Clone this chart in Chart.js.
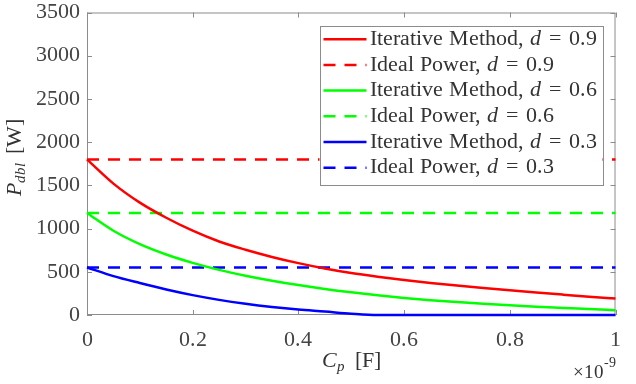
<!DOCTYPE html>
<html><head><meta charset="utf-8">
<script src="https://cdn.jsdelivr.net/npm/chart.js@4.4.0/dist/chart.umd.min.js"></script>
</head><body style="margin:0">
<canvas id="c" width="636" height="384"></canvas>
<script>
// Values
const cpValues = [0, 0.05, 0.1, 0.15, 0.2, 0.25, 0.3, 0.35, 0.4, 0.45, 0.5,
                  0.55, 0.6, 0.65, 0.7, 0.75, 0.8, 0.85, 0.9, 0.95, 1];
const iterative09 = [1800, 1520, 1300, 1125, 975, 850, 755, 672, 600, 538, 485,
                     442, 404, 371, 341, 313, 287, 261, 236, 212, 190];
const iterative06 = [1180, 975, 820, 700, 603, 522, 455, 397, 346, 301, 262,
                     228, 198, 172, 150, 130, 112, 96, 82, 68, 56];
const iterative03 = [550, 450, 370, 295, 230, 175, 130, 93, 63, 40, 15,
                     0, 0, 0, 0, 0, 0, 0, 0, 0, 0];
const idealPower = [1800, 1180, 550];
const dutyCycles = ['0.9', '0.6', '0.3'];
const xTicks = [0, 0.2, 0.4, 0.6, 0.8, 1];
const xTickLabels = ['0', '0.2', '0.4', '0.6', '0.8', '1'];
const yTicks = [0, 500, 1000, 1500, 2000, 2500, 3000, 3500];
const yTickLabels = ['0', '500', '1000', '1500', '2000', '2500', '3000', '3500'];

const colors = ['#ff0000', '#00ff00', '#0000ff'];
const serif = "SerifCM, 'Liberation Serif', serif";
const boxColor = '#8c8c8c';
const textColor = '#333333';

const iterSeries = [iterative09, iterative06, iterative03];
const datasets = [];
dutyCycles.forEach((d, i) => {
  datasets.push({
    label: 'Iterative Method, d = ' + d,
    data: cpValues.map((x, k) => ({ x: x, y: iterSeries[i][k] })),
    borderColor: colors[i],
    borderWidth: 2.5,
    pointRadius: 0,
    cubicInterpolationMode: 'monotone',
    clip: false
  });
  datasets.push({
    label: 'Ideal Power, d = ' + d,
    data: [{ x: 0, y: idealPower[i] }, { x: 1, y: idealPower[i] }],
    borderColor: colors[i],
    borderWidth: 2.5,
    borderDash: [12, 9],
    pointRadius: 0,
    clip: false
  });
});

// box around the plot with inward tick marks
const axesBox = {
  id: 'axesBox',
  beforeDatasetsDraw(chart) {
    const { ctx, chartArea: a, scales } = chart;
    ctx.save();
    ctx.strokeStyle = boxColor;
    ctx.lineWidth = 1;
    ctx.strokeRect(a.left + 0.5, a.top + 0.5, a.right - a.left - 1, a.bottom - a.top - 1);
    ctx.beginPath();
    xTicks.forEach(v => {
      const px = Math.round(scales.x.getPixelForValue(v)) + 0.5;
      ctx.moveTo(px, a.bottom); ctx.lineTo(px, a.bottom - 5);
      ctx.moveTo(px, a.top); ctx.lineTo(px, a.top + 5);
    });
    yTicks.forEach(v => {
      const py = Math.round(scales.y.getPixelForValue(v)) + 0.5;
      ctx.moveTo(a.left, py); ctx.lineTo(a.left + 5, py);
      ctx.moveTo(a.right, py); ctx.lineTo(a.right - 5, py);
    });
    ctx.stroke();
    ctx.restore();
  }
};

// legend, axis titles (italic + subscripts), x10^-9 label
const annotations = {
  id: 'annotations',
  afterDraw(chart) {
    const { ctx, chartArea: a } = chart;
    const reg = '22px ' + serif;
    const ital = 'italic 22px ' + serif;
    const sub = 'italic 15px ' + serif;
    ctx.save();

    const parts = chart.data.datasets.map(ds => {
      const [pre, val] = ds.label.split(' d = ');
      return { ds, pre: pre + ' ', val };
    });
    const eqGap = 8;
    const widthOf = p => {
      ctx.font = reg; let w = ctx.measureText(p.pre).width;
      ctx.font = ital; w += ctx.measureText('d').width;
      ctx.font = reg; w += eqGap * 2 + ctx.measureText('=').width + ctx.measureText(p.val).width;
      return w;
    };
    const textW = Math.max(...parts.map(widthOf));
    const rowH = 25.7;
    const boxW = 4 + 43 + 3 + textW + 6;
    const boxH = parts.length * rowH + 5;
    const x0 = a.right - 13 - boxW;
    const y0 = a.top + 13;
    ctx.fillStyle = '#fff';
    ctx.fillRect(x0, y0, boxW, boxH);
    ctx.strokeStyle = boxColor;
    ctx.lineWidth = 1;
    ctx.strokeRect(Math.round(x0) + 0.5, Math.round(y0) + 0.5, Math.round(boxW), Math.round(boxH));
    ctx.textBaseline = 'middle';
    ctx.textAlign = 'left';
    parts.forEach((p, i) => {
      const cy = y0 + 13.7 + i * rowH;
      ctx.save();
      ctx.strokeStyle = p.ds.borderColor;
      ctx.lineWidth = 2.5;
      ctx.setLineDash(p.ds.borderDash || []);
      ctx.beginPath();
      ctx.moveTo(x0 + 4, cy); ctx.lineTo(x0 + 47, cy);
      ctx.stroke();
      ctx.restore();
      ctx.fillStyle = textColor;
      let tx = x0 + 50;
      ctx.font = reg; ctx.fillText(p.pre, tx, cy); tx += ctx.measureText(p.pre).width;
      ctx.font = ital; ctx.fillText('d', tx, cy); tx += ctx.measureText('d').width + eqGap;
      ctx.font = reg; ctx.fillText('=', tx, cy); tx += ctx.measureText('=').width + eqGap;
      ctx.fillText(p.val, tx, cy);
    });

    // x title: C_p [F]
    ctx.fillStyle = textColor;
    ctx.textBaseline = 'alphabetic';
    ctx.font = ital; const wC = ctx.measureText('C').width;
    ctx.font = sub; const wp = ctx.measureText('p').width;
    ctx.font = reg; const wF = ctx.measureText(' [F]').width;
    let xx = (a.left + a.right) / 2 - (wC + wp + 4 + wF) / 2;
    const xb = a.bottom + 52;
    ctx.font = ital; ctx.fillText('C', xx, xb); xx += wC;
    ctx.font = sub; ctx.fillText('p', xx, xb + 4); xx += wp + 4;
    ctx.font = reg; ctx.fillText(' [F]', xx, xb);

    // exponent label
    ctx.font = '14px ' + serif;
    const w9 = ctx.measureText('-9').width;
    ctx.fillText('-9', a.right - w9, a.bottom + 52);
    ctx.font = '19px ' + serif;
    const w10 = ctx.measureText('\u00d710').width;
    ctx.fillText('\u00d710', a.right - w9 - w10, a.bottom + 63);

    // y title: P_dbl [W]
    ctx.save();
    ctx.font = ital; const wP = ctx.measureText('P').width;
    ctx.font = sub; const wd = ctx.measureText('dbl').width;
    ctx.font = reg; const wW = ctx.measureText(' [W]').width;
    const total = wP + wd + 3 + wW;
    ctx.translate(21, (a.top + a.bottom) / 2 - 6 + total / 2);
    ctx.rotate(-Math.PI / 2);
    let yx = 0;
    ctx.font = ital; ctx.fillText('P', yx, 0); yx += wP;
    ctx.font = sub; ctx.fillText('dbl', yx, 4); yx += wd + 3;
    ctx.font = reg; ctx.fillText(' [W]', yx, 0);
    ctx.restore();

    ctx.restore();
  }
};

function draw() {
  new Chart(document.getElementById('c'), {
    type: 'line',
    data: { datasets: datasets },
    options: {
      responsive: false,
      animation: false,
      layout: { padding: { top: 0, right: 2, bottom: 0, left: 0 } },
      plugins: { legend: { display: false }, tooltip: { enabled: false } },
      scales: {
        x: {
          type: 'linear',
          min: 0,
          max: 1,
          afterBuildTicks: s => { s.ticks = xTicks.map(v => ({ value: v })); },
          afterFit: s => { s.height = 69; },
          grid: { display: false, drawTicks: false },
          border: { display: false },
          ticks: {
            padding: 15,
            color: '#444',
            font: { family: serif, size: 22, lineHeight: 0.9 },
            maxRotation: 0,
            autoSkip: false,
            callback: v => xTickLabels[xTicks.indexOf(v)]
          }
        },
        y: {
          type: 'linear',
          min: 0,
          max: 3500,
          afterBuildTicks: s => { s.ticks = yTicks.map(v => ({ value: v })); },
          afterFit: s => { s.width = 87; },
          grid: { display: false, drawTicks: false },
          border: { display: false },
          ticks: {
            padding: 7,
            color: '#444',
            font: { family: serif, size: 22, lineHeight: 0.5 },
            autoSkip: false,
            callback: v => yTickLabels[yTicks.indexOf(v)]
          }
        }
      }
    },
    plugins: [axesBox, annotations]
  });
}

// register the system serif under an alias, then draw
const faces = [
  new FontFace('SerifCM', 'local("Liberation Serif"), local("LiberationSerif")', { style: 'normal' }),
  new FontFace('SerifCM', 'local("Liberation Serif Italic"), local("LiberationSerif-Italic")', { style: 'italic' })
];
Promise.all(faces.map(f => f.load().then(ff => document.fonts.add(ff)).catch(() => null)))
  .then(draw, draw);
</script>
</body></html>
